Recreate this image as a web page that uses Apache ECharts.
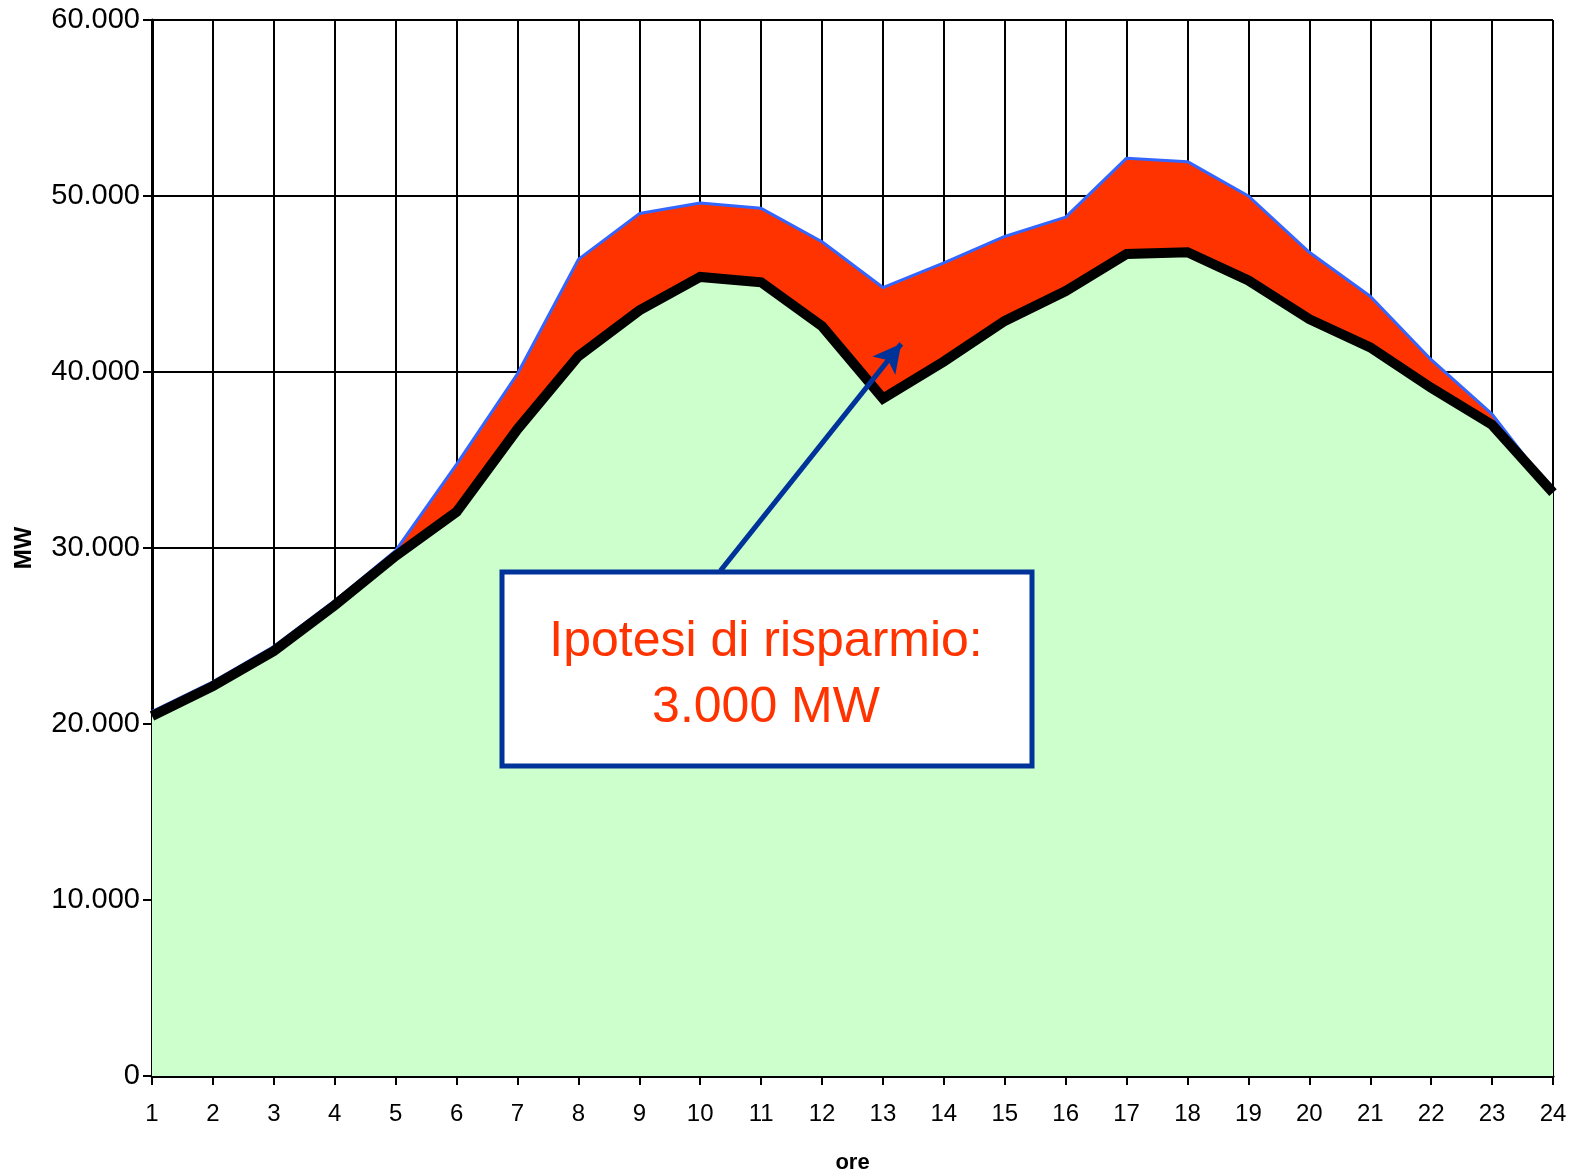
<!DOCTYPE html>
<html>
<head>
<meta charset="utf-8">
<title>Ipotesi di risparmio</title>
<script src="https://cdn.jsdelivr.net/npm/echarts@6/dist/echarts.min.js"></script>
<style>
  html, body { margin: 0; padding: 0; background: #fff; }
  #chart { width: 1576px; height: 1175px; }
</style>
</head>
<body>
<div id="chart"></div>
<script>
// ore del giorno
const hours = [1, 2, 3, 4, 5, 6, 7, 8, 9, 10, 11, 12, 13, 14, 15, 16, 17, 18, 19, 20, 21, 22, 23, 24];
// carico senza risparmio (linea blu, area rossa)
const loadBase = [20700, 22400, 24400, 27000, 29850, 34750, 39900, 46400, 49000, 49600, 49300, 47400,
                  44800, 46200, 47700, 48800, 52150, 51950, 50000, 46800, 44300, 40700, 37600, 33150];
// carico con risparmio (linea nera, area verde)
const loadSaved = [20450, 22150, 24150, 26750, 29550, 32050, 36750, 40900, 43500, 45400, 45100, 42600,
                   38500, 40600, 42900, 44600, 46700, 46800, 45200, 43000, 41400, 39100, 37000, 33150];
// freccia dell'annotazione [ora, MW]
const arrowFrom = [10.33, 28700];
const arrowTo = [13.3, 41600];
const noteLines = ['Ipotesi di risparmio:', '3.000 MW'];

const font = 'Liberation Sans, Arial, sans-serif';
const chart = echarts.init(document.getElementById('chart'));

const option = {
  animation: false,
  grid: { left: 152, right: 23, top: 20, bottom: 99, outerBoundsMode: 'none' },
  xAxis: {
    type: 'value',
    min: 1,
    max: 24,
    interval: 1,
    name: 'ore',
    nameLocation: 'middle',
    nameGap: 76,
    nameTextStyle: { fontFamily: font, fontSize: 22, fontWeight: 'bold', color: '#000' },
    axisLine: { show: true, onZero: false, lineStyle: { color: '#000', width: 3 } },
    axisTick: { show: true, length: 9, lineStyle: { color: '#000', width: 2 } },
    axisLabel: { fontFamily: font, fontSize: 24, color: '#000', margin: 26 },
    splitLine: { show: true, lineStyle: { color: '#000', width: 2 } }
  },
  yAxis: {
    type: 'value',
    min: 0,
    max: 60000,
    interval: 10000,
    name: 'MW',
    nameLocation: 'middle',
    nameRotate: 90,
    nameGap: 116,
    nameTextStyle: { fontFamily: font, fontSize: 24, fontWeight: 'bold', color: '#000' },
    axisLine: { show: true, lineStyle: { color: '#000', width: 3 } },
    axisTick: { show: true, length: 9, lineStyle: { color: '#000', width: 2 } },
    axisLabel: {
      fontFamily: font, fontSize: 29, color: '#000', margin: 12,
      formatter: v => v === 0 ? '0' : (v / 1000) + '.000'
    },
    splitLine: { show: true, lineStyle: { color: '#000', width: 2 } }
  },
  series: [
    {
      name: 'base',
      type: 'line',
      data: hours.map((h, i) => [h, loadBase[i]]),
      showSymbol: false,
      lineStyle: { color: '#3366ff', width: 3 },
      areaStyle: { color: '#ff3300', opacity: 1 },
      z: 2
    },
    {
      name: 'risparmio',
      type: 'line',
      data: hours.map((h, i) => [h, loadSaved[i]]),
      showSymbol: false,
      lineStyle: { color: '#000', width: 10, join: 'miter' },
      areaStyle: { color: '#ccffcc', opacity: 1 },
      z: 3,
      markLine: {
        silent: true,
        symbol: ['none', 'arrow'],
        symbolSize: [22, 28],
        label: { show: false },
        lineStyle: { color: '#003399', width: 5, type: 'solid' },
        data: [[{ coord: arrowFrom }, { coord: arrowTo }]]
      }
    }
  ],
  graphic: [
    {
      type: 'rect',
      z: 100,
      shape: { x: 502, y: 572, width: 530, height: 194 },
      style: { fill: '#fff', stroke: '#003399', lineWidth: 5 }
    },
    {
      type: 'text',
      z: 101,
      x: 766, y: 667,
      style: {
        text: noteLines[0], fill: '#ff3300', font: '50px ' + font,
        align: 'center', verticalAlign: 'bottom'
      }
    },
    {
      type: 'text',
      z: 101,
      x: 766, y: 733,
      style: {
        text: noteLines[1], fill: '#ff3300', font: '50px ' + font,
        align: 'center', verticalAlign: 'bottom'
      }
    }
  ]
};

chart.setOption(option);
</script>
</body>
</html>
